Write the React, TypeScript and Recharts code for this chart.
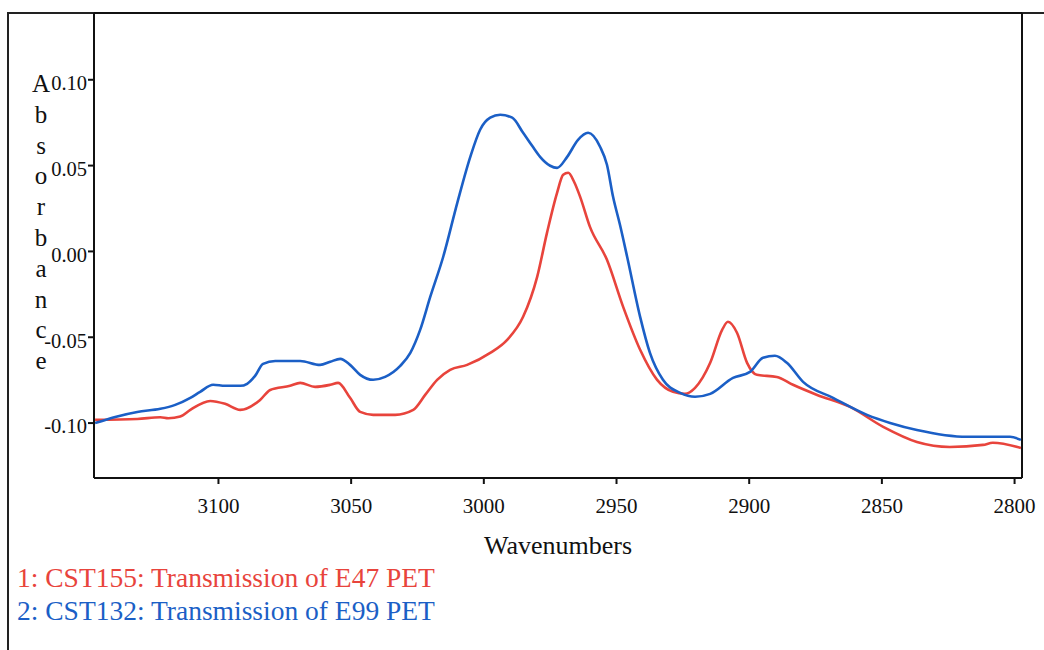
import React from "react";
import { LineChart, Line, XAxis, YAxis, Label, Legend, ReferenceLine } from "recharts";

// wavenumbers (cm-1) and absorbance
const redWave = [
  3146.5, 3130.6, 3121.9, 3118.9, 3114.4, 3110.6, 3103.1, 3097.5, 3091.8, 3084.3,
  3080.5, 3073.0, 3069.2, 3063.6, 3057.9, 3054.9, 3050.4, 3046.6, 3041.7, 3033.4,
  3026.6, 3022.1, 3017.6, 3012.7, 3006.3, 2997.6, 2991.2, 2985.2, 2979.9, 2976.2,
  2972.4, 2970.1, 2968.2, 2966.0, 2963.7, 2960.0, 2953.6, 2947.5, 2941.1, 2934.7,
  2928.7, 2924.2, 2920.4, 2914.7, 2910.2, 2908.0, 2904.6, 2900.8, 2897.1, 2889.6,
  2883.5, 2874.4, 2862.0, 2849.5, 2836.8, 2824.4, 2811.9, 2808.2, 2797.6,
];
const redAbs = [
  -0.0981, -0.0976, -0.0966, -0.0972, -0.0962, -0.0923, -0.0871, -0.0888, -0.0923, -0.0865,
  -0.0807, -0.0783, -0.0766, -0.0789, -0.0777, -0.0766, -0.0853, -0.0935, -0.0952, -0.0952,
  -0.0923, -0.0836, -0.0748, -0.069, -0.0661, -0.0591, -0.0515, -0.0381, -0.0148, 0.0108,
  0.0341, 0.0446, 0.0458, 0.0406, 0.0318, 0.0143, -0.0049, -0.0323, -0.0573, -0.0748,
  -0.0818, -0.083, -0.0795, -0.0649, -0.0457, -0.041, -0.0474, -0.0649, -0.0719, -0.0731,
  -0.0777, -0.0836, -0.0906, -0.1022, -0.111, -0.1139, -0.1127, -0.1115, -0.1145,
];

const blueWave = [
  3146.5, 3138.9, 3130.6, 3121.9, 3116.3, 3110.6, 3106.9, 3102.0, 3097.5, 3091.8,
  3089.2, 3086.2, 3083.2, 3078.6, 3069.2, 3061.7, 3057.9, 3054.1, 3050.4, 3046.6,
  3041.7, 3037.2, 3031.5, 3027.7, 3024.0, 3020.2, 3015.3, 3010.0, 3005.1, 3001.4,
  2997.6, 2993.8, 2989.3, 2985.2, 2981.8, 2978.8, 2975.0, 2972.4, 2968.6, 2964.5,
  2960.7, 2956.2, 2953.6, 2951.3, 2948.7, 2946.0, 2941.1, 2937.4, 2932.5, 2926.0,
  2920.4, 2914.7, 2906.1, 2899.7, 2894.8, 2890.3, 2885.8, 2879.7, 2868.4, 2855.6,
  2846.9, 2836.8, 2817.9, 2801.7, 2797.6,
];
const blueAbs = [
  -0.1, -0.0964, -0.0935, -0.0917, -0.0894, -0.0853, -0.0818, -0.0777, -0.0783, -0.0783,
  -0.0771, -0.0725, -0.0655, -0.0638, -0.0638, -0.0661, -0.0643, -0.0626, -0.0661, -0.0719,
  -0.0748, -0.0731, -0.0667, -0.0591, -0.0457, -0.0265, -0.0031, 0.0283, 0.0551, 0.0709,
  0.0779, 0.0796, 0.0779, 0.0691, 0.0615, 0.0551, 0.0499, 0.0487, 0.0551, 0.065,
  0.0691, 0.061, 0.0505, 0.0318, 0.0155, -0.0031, -0.0381, -0.0591, -0.0748, -0.0824,
  -0.0847, -0.083, -0.0737, -0.0702, -0.062, -0.0608, -0.0649, -0.076, -0.0853, -0.0952,
  -0.0999, -0.104, -0.108, -0.108, -0.1098,
];

const xTicks = [3100, 3050, 3000, 2950, 2900, 2850, 2800];
const yTicks = [-0.1, -0.05, 0, 0.05, 0.1];
const yTitle = "Absorbance";

const redName = "1: CST155: Transmission of E47 PET";
const blueName = "2: CST132: Transmission of E99 PET";

const X_DOMAIN = [2797.2, 3146.9];
const Y_DOMAIN = [-0.132, 0.1389];

const RED = "#e8443c";
const BLUE = "#1b5fc6";
const FONT = "'Liberation Serif', 'Times New Roman', serif";

const redData = redWave.map((w, i) => ({ w, a: redAbs[i] }));
const blueData = blueWave.map((w, i) => ({ w, a: blueAbs[i] }));

function StackedTitle() {
  return (
    <text x={41} fontSize={25} fontFamily={FONT} fill="#111" textAnchor="middle">
      {yTitle.split("").map((ch, i) => (
        <tspan key={i} x={41} y={92 + i * 30.8}>
          {ch}
        </tspan>
      ))}
    </text>
  );
}

function SpectraLegend({ payload }: any) {
  return (
    <div style={{ fontFamily: FONT, fontSize: 27.5, lineHeight: "33px" }}>
      {(payload || []).map((p: any) => (
        <div key={p.value} style={{ color: p.color, whiteSpace: "nowrap" }}>
          {p.value}
        </div>
      ))}
    </div>
  );
}

export default function App() {
  return (
    <div style={{ position: "absolute", left: 0, top: 0, width: 1044, height: 650, background: "#fff" }}>
      <div style={{ position: "absolute", left: 7, top: 12, width: 2, height: 638, background: "#222" }} />
      <div style={{ position: "absolute", left: 7, top: 12, width: 1037, height: 2, background: "#222" }} />
      <LineChart
        width={1044}
        height={650}
        margin={{ top: 13, right: 22, bottom: 132, left: 0 }}
        style={{ position: "absolute", left: 0, top: 0 }}
      >
        <XAxis
          dataKey="w"
          type="number"
          domain={X_DOMAIN}
          reversed
          allowDataOverflow
          ticks={xTicks}
          tickSize={6}
          tickMargin={14}
          height={40}
          stroke="#111"
          strokeWidth={2}
          tick={{ fontSize: 21, fontFamily: FONT, fill: "#111" }}
        >
          <Label
            value="Wavenumbers"
            position="bottom"
            offset={18}
            style={{ fontSize: 26, fontFamily: FONT, fill: "#111" }}
          />
        </XAxis>
        <YAxis
          type="number"
          domain={Y_DOMAIN}
          allowDataOverflow
          ticks={yTicks}
          tickFormatter={(v: number) => v.toFixed(2)}
          tickSize={6}
          tickMargin={1}
          width={94}
          stroke="#111"
          strokeWidth={2}
          tick={{ fontSize: 20.5, fontFamily: FONT, fill: "#111", dy: 3 }}
        >
          <Label content={<StackedTitle />} />
        </YAxis>
        <ReferenceLine x={X_DOMAIN[0]} stroke="#111" strokeWidth={2} ifOverflow="extendDomain" />
        <ReferenceLine y={Y_DOMAIN[1]} stroke="#111" strokeWidth={2} ifOverflow="extendDomain" />
        <Legend
          layout="horizontal"
          verticalAlign="middle"
          align="center"
          content={<SpectraLegend />}
          wrapperStyle={{ left: 17, top: 561, width: 620, height: 70 }}
        />
        <Line
          data={redData}
          dataKey="a"
          name={redName}
          stroke={RED}
          strokeWidth={2.6}
          dot={false}
          type="monotone"
          isAnimationActive={false}
        />
        <Line
          data={blueData}
          dataKey="a"
          name={blueName}
          stroke={BLUE}
          strokeWidth={2.6}
          dot={false}
          type="monotone"
          isAnimationActive={false}
        />
      </LineChart>
    </div>
  );
}
